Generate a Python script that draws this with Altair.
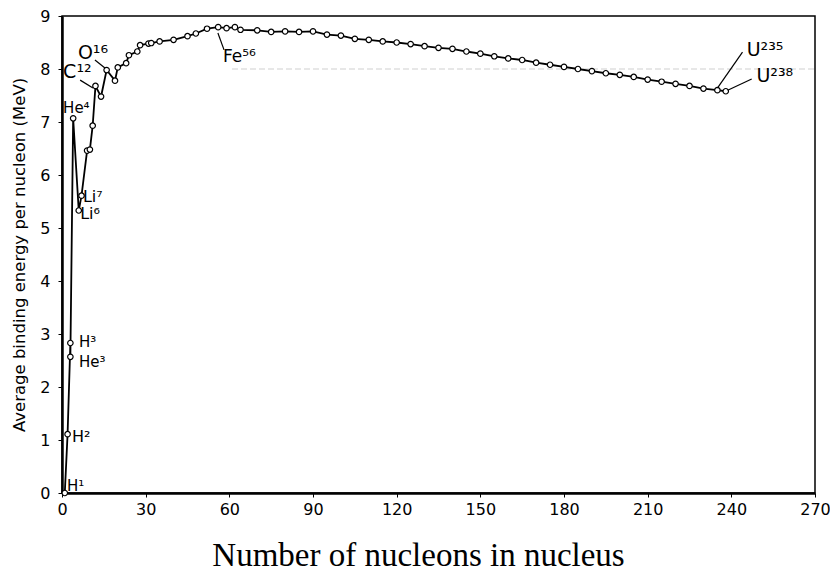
import altair as alt
import pandas as pd

# ---- data ----
nucleons = [1, 2, 3, 3, 4, 6, 7, 9, 10, 11, 12, 14, 16, 19, 20, 23, 24, 27, 28, 31, 32,
            35, 40, 45, 48, 52, 56, 59, 62, 64, 70, 75, 80, 85, 90, 95, 100, 105, 110,
            115, 120, 125, 130, 135, 140, 145, 150, 155, 160, 165, 170, 175, 180, 185,
            190, 195, 200, 205, 210, 215, 220, 225, 230, 235, 238]
binding = [0.0, 1.11, 2.83, 2.57, 7.07, 5.33, 5.61, 6.46, 6.48, 6.93, 7.68, 7.48, 7.98,
           7.78, 8.03, 8.11, 8.26, 8.33, 8.45, 8.48, 8.49, 8.52, 8.55, 8.62, 8.67, 8.76,
           8.79, 8.77, 8.79, 8.74, 8.73, 8.70, 8.71, 8.70, 8.71, 8.65, 8.63, 8.57, 8.55,
           8.52, 8.50, 8.47, 8.43, 8.40, 8.38, 8.33, 8.29, 8.24, 8.20, 8.17, 8.12, 8.08,
           8.04, 8.00, 7.96, 7.92, 7.89, 7.85, 7.80, 7.76, 7.72, 7.68, 7.63, 7.60, 7.58]

label_text = ["H¹", "H²", "H³", "He³", "He⁴", "Li⁷", "Li⁶", "C¹²", "O¹⁶", "Fe⁵⁶", "U²³⁵", "U²³⁸"]
label_x = [1.8, 3.6, 6.1, 6.1, 0.4, 7.5, 6.5, 0.4, 5.7, 57.7, 245.5, 249.0]
label_y = [0.13, 1.06, 2.84, 2.47, 7.26, 5.58, 5.26, 7.94, 8.30, 8.23, 8.36, 7.87]
label_size = [15, 16, 15, 15, 15, 16, 16, 19, 19, 17, 19, 19]

leader_x = [6.5, 11.8, 55.9, 244.0, 247.3]
leader_y = [7.79, 8.17, 8.68, 8.32, 7.81]
leader_x2 = [11.1, 15.4, 58.1, 235.0, 238.7]
leader_y2 = [7.64, 8.02, 8.36, 7.64, 7.60]

x_ticks = [0, 30, 60, 90, 120, 150, 180, 210, 240, 270]
y_ticks = [0, 1, 2, 3, 4, 5, 6, 7, 8, 9]

df = pd.DataFrame({"A": nucleons, "BE": binding, "order": list(range(len(nucleons)))})
labels = pd.DataFrame({"t": label_text, "x": label_x, "y": label_y, "s": label_size})
leaders = pd.DataFrame({"x": leader_x, "y": leader_y, "x2": leader_x2, "y2": leader_y2})

xs = alt.Scale(domain=[0, 270], nice=False, zero=False)
ys = alt.Scale(domain=[0, 9], nice=False)

xaxis = alt.Axis(values=x_ticks, title="Number of nucleons in nucleus",
                 titleFont="Liberation Serif", titleFontSize=33, titleFontWeight="normal",
                 titlePadding=22, titleX=356, titleAlign="center",
                 labelFont="DejaVu Sans", labelFontSize=16,
                 labelColor="black", tickColor="black", tickSize=4, domainColor="black",
                 domainWidth=2.5, grid=False, labelPadding=4, labelFlush=False)
yaxis = alt.Axis(values=y_ticks, title="Average binding energy per nucleon (MeV)",
                 titleFont="DejaVu Sans", titleFontSize=16.5, titleFontWeight="normal",
                 titlePadding=12, labelFont="DejaVu Sans", labelFontSize=16,
                 labelColor="black", tickColor="black", tickSize=4, domainColor="black",
                 domainWidth=2.5, grid=False, labelPadding=8, labelFlush=False)

gridline = alt.Chart(pd.DataFrame({"v": [8]})).mark_rule(
    color="#cfcfcf", strokeDash=[6, 3], strokeWidth=1
).encode(y=alt.Y("v:Q", scale=ys), x=alt.value(170), x2=alt.value(753))

line = alt.Chart(df).mark_line(color="black", strokeWidth=1.8).encode(
    x=alt.X("A:Q", scale=xs, axis=xaxis),
    y=alt.Y("BE:Q", scale=ys, axis=yaxis),
    order="order:Q",
)
pts = alt.Chart(df).mark_point(shape="circle", filled=True, fill="white",
                               stroke="black", strokeWidth=1.2, size=30, opacity=1).encode(
    x=alt.X("A:Q", scale=xs), y=alt.Y("BE:Q", scale=ys)
)
lead = alt.Chart(leaders).mark_rule(color="black", strokeWidth=1.2).encode(
    x=alt.X("x:Q", scale=xs), y=alt.Y("y:Q", scale=ys), x2="x2:Q", y2="y2:Q"
)
txt = alt.Chart(labels).mark_text(align="left", baseline="middle", font="DejaVu Sans",
                                  color="black").encode(
    x=alt.X("x:Q", scale=xs), y=alt.Y("y:Q", scale=ys), text="t:N",
    size=alt.Size("s:Q", scale=None, legend=None)
)

chart = alt.layer(gridline, line, pts, lead, txt).properties(
    width=753, height=477,
    autosize=alt.AutoSizeParams(type="none"),
    padding={"left": 62, "top": 16, "right": 15, "bottom": 85},
    background="white",
).configure_view(stroke="black", strokeWidth=1.5)

chart.save("out.html", embed_options={"renderer": "svg", "actions": False})
